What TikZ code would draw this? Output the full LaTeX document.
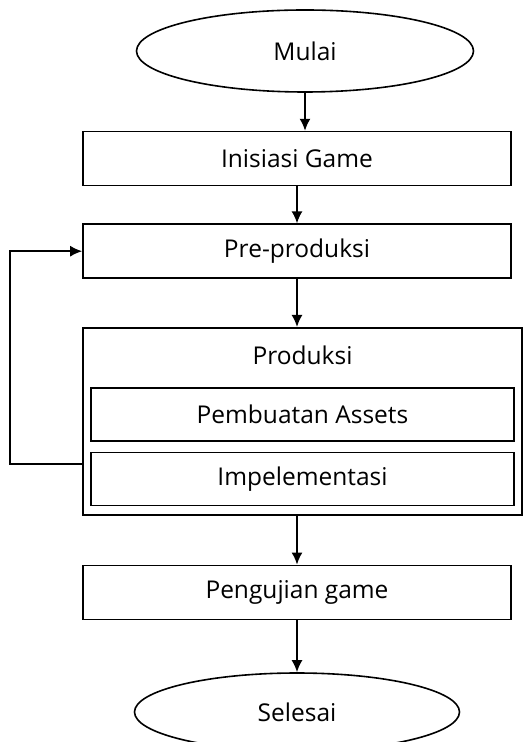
\documentclass[tikz,border=0pt]{standalone}
\usepackage{fontspec}
\setmainfont{Open Sans}
\usepackage{tikz}
\usetikzlibrary{calc,positioning,shapes,arrows,arrows.meta}
\tikzstyle{terminal}=[ellipse, draw=black, line width=0.8pt, inner sep=0pt, text centered,
        font=\fontsize{12.25}{15}\selectfont]
\tikzstyle{process}=[rectangle, draw=black, line width=0.8pt, minimum width=214pt, minimum height=27pt,
        text centered, font=\fontsize{12.25}{15}\selectfont]
\tikzstyle{subprocess}=[process, minimum width=211.5pt, minimum height=26.5pt]
\tikzstyle{flow}=[-{Latex[length=6pt,width=5.5pt]}, line width=0.9pt]

\begin{document}
\begin{tikzpicture}
    \useasboundingbox (-152.5pt,25.5pt) rectangle (112pt,-345.5pt);

    \node (Mulai) [terminal, minimum width=168.5pt, minimum height=41pt] at (0,0) {Mulai};

    \node (Inisiasi) [process, below=19pt of Mulai, xshift=-4pt] {Inisiasi Game};

    \node (PreProduksi) [process, below=18.5pt of Inisiasi] {Pre-produksi};

    \node (Produksi) [rectangle, draw=black, line width=0.8pt, minimum width=219.5pt, minimum height=93.5pt,
        below=24pt of PreProduksi.south west, anchor=north west] {};

    \node (ProduksiLabel) [below=14pt of Produksi.north, anchor=center, font=\fontsize{12.25}{15}\selectfont] {Produksi};

    \node (Assets) [subprocess, below=30pt of Produksi.north, anchor=north] {Pembuatan Assets};

    \node (Implementasi) [subprocess, below=5pt of Assets] {Impelementasi};

    \node (Pengujian) [process, below=24.5pt of Produksi.south west, anchor=north west] {Pengujian game};

    \node (Selesai) [terminal, minimum width=162.5pt, minimum height=39pt, below=26pt of Pengujian] {Selesai};

    \coordinate (Balik) at ([yshift=-6pt]Implementasi.north -| Produksi.west);

    \draw[flow] (Mulai.south) -- (Mulai.south |- Inisiasi.north);
    \draw[flow] (Inisiasi.south) -- (PreProduksi.north);
    \draw[flow] (PreProduksi.south) -- (PreProduksi.south |- Produksi.north);
    \draw[flow] (Pengujian.north |- Produksi.south) -- (Pengujian.north);
    \draw[flow] (Pengujian.south) -- (Selesai.north);
    \draw[flow] (Balik) -- ++(-36pt,0) |- (PreProduksi.west);

\end{tikzpicture}
\end{document}
